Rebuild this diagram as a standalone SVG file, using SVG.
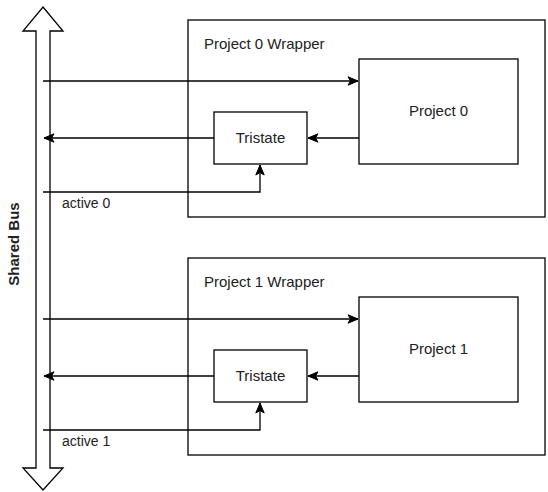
<svg xmlns="http://www.w3.org/2000/svg" width="548" height="492" viewBox="0 0 548 492">
  <style>
    .box { fill: #ffffff; stroke: #000000; stroke-width: 1.3; }
    .edge { fill: none; stroke: #000000; stroke-width: 1.3; }
    .lbl { font-family: "Liberation Sans", Arial, sans-serif; font-size: 15px; fill: #222222; }
    .mid { text-anchor: middle; }
    .small { font-size: 14px; }
    .bold { font-weight: bold; }
  </style>
  <defs>
    <marker id="arrow" markerUnits="userSpaceOnUse" markerWidth="12" markerHeight="10" refX="11" refY="5" orient="auto">
      <path d="M1,0.8 L11,5 L1,9.2 L3.5,5 Z" fill="#000000" stroke="#000000" stroke-width="1"/>
    </marker>
  </defs>
  <rect width="548" height="492" fill="#ffffff"/>

  <!-- shared bus: double-headed block arrow -->
  <g id="shared-bus">
    <polygon class="box" points="43,7 63,31 50,31 50,468 63,468 43,490 23,468 36,468 36,31 23,31"/>
    <text class="lbl bold mid" transform="translate(19,244) rotate(-90)">Shared Bus</text>
  </g>

  <!-- wrapper 0 -->
  <g id="wrapper0">
    <rect class="box" x="188" y="20" width="357" height="197"/>
    <text class="lbl" x="204" y="49">Project 0 Wrapper</text>
  </g>
  <g id="project0">
    <rect class="box" x="359" y="59" width="159" height="105"/>
    <text class="lbl mid" x="438.5" y="116">Project 0</text>
  </g>
  <g id="tristate0">
    <rect class="box" x="214" y="112" width="93" height="52"/>
    <text class="lbl mid" x="260.5" y="143">Tristate</text>
  </g>

  <!-- wrapper 1 -->
  <g id="wrapper1">
    <rect class="box" x="188" y="258" width="357" height="197"/>
    <text class="lbl" x="204" y="287">Project 1 Wrapper</text>
  </g>
  <g id="project1">
    <rect class="box" x="359" y="297" width="159" height="105"/>
    <text class="lbl mid" x="438.5" y="354">Project 1</text>
  </g>
  <g id="tristate1">
    <rect class="box" x="214" y="350" width="93" height="52"/>
    <text class="lbl mid" x="260.5" y="381">Tristate</text>
  </g>

  <!-- connectors -->
  <g id="connectors">
    <path class="edge" d="M43,81 L358,81" marker-end="url(#arrow)"/>
    <path class="edge" d="M359,138 L308,138" marker-end="url(#arrow)"/>
    <path class="edge" d="M214,138 L44,138" marker-end="url(#arrow)"/>
    <path class="edge" d="M43,192 L260,192 L260,165" marker-end="url(#arrow)"/>
    <text class="lbl small" x="62" y="208">active 0</text>

    <path class="edge" d="M43,319 L358,319" marker-end="url(#arrow)"/>
    <path class="edge" d="M359,376 L308,376" marker-end="url(#arrow)"/>
    <path class="edge" d="M214,376 L44,376" marker-end="url(#arrow)"/>
    <path class="edge" d="M43,430 L260,430 L260,403" marker-end="url(#arrow)"/>
    <text class="lbl small" x="62" y="446">active 1</text>
  </g>
</svg>
